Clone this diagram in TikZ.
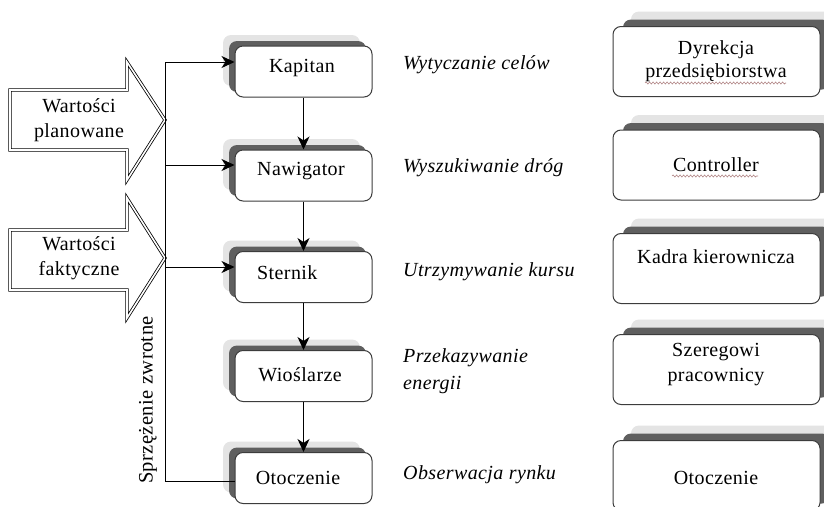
\documentclass[tikz,border=0pt]{standalone}
\usepackage{fontspec}
\setmainfont[LetterSpace=2]{Liberation Serif}
\usetikzlibrary{arrows.meta,shadows,decorations.pathmorphing}

\definecolor{boxline}{RGB}{60,60,60}
\definecolor{shadedark}{RGB}{95,95,95}
\definecolor{shadelight}{RGB}{228,228,228}
\definecolor{squig}{RGB}{175,130,130}

\begin{document}
\begin{tikzpicture}[x=1pt,y=-1pt,
  every node/.style={inner sep=0pt, font=\fontsize{20}{25}\selectfont},
  txt/.style={align=center},
  lab/.style={anchor=west, align=left, font=\fontsize{20}{27}\selectfont\itshape},
  rolebox/.style={draw=boxline, line width=1pt, fill=white, rounded corners=8pt,
    minimum width=137pt, minimum height=51pt,
    general shadow={fill=shadelight, shadow xshift=-12pt, shadow yshift=11pt},
    general shadow={fill=shadedark, shadow xshift=-6pt, shadow yshift=5pt}},
  orgbox/.style={draw=boxline, line width=1pt, fill=white, rounded corners=8pt,
    minimum width=207pt, minimum height=70pt,
    general shadow={fill=shadelight, shadow xshift=18pt, shadow yshift=15pt},
    general shadow={fill=shadedark, shadow xshift=10pt, shadow yshift=7pt}},
  link/.style={line width=1pt, -{Stealth[length=13pt,width=12pt,inset=4pt]}},
  fb/.style={line width=1pt},
  bigarrow/.style={draw=black, line width=0.8pt, double=white, double distance=1.6pt,
    line join=miter, fill=white},
  squiggle/.style={draw=squig, line width=0.6pt, decorate,
    decoration={snake, amplitude=1pt, segment length=3.5pt}}
]
\useasboundingbox (0,0) rectangle (824,506);
\clip (0,0) rectangle (824,506);

% input arrows on the left
\draw[bigarrow] (10,90) -- (127,90) -- (127,62) -- (165,120) -- (127,180)
  -- (127,150) -- (10,150) -- cycle;
\node[txt] (plan) at (79,120) {Wartości\\planowane};
\draw[bigarrow] (10,230) -- (127,230) -- (127,198) -- (165,258) -- (127,318)
  -- (127,290) -- (10,290) -- cycle;
\node[txt] (fakt) at (79,258) {Wartości\\faktyczne};

% crew boxes
\node[rolebox] (kap) at (303.5,71.5) {};
\node[rolebox] (naw) at (303.5,175.5) {};
\node[rolebox] (ste) at (303.5,277) {};
\node[rolebox] (wio) at (303.5,376) {};
\node[rolebox] (oto) at (303.5,478) {};
\node (tkap) at (302,68) {Kapitan};
\node (tnaw) at (301,171) {Nawigator};
\node[anchor=west] (tste) at (257,273) {Sternik};
\node (twio) at (300,375) {Wioślarze};
\node (toto) at (298,478) {Otoczenie};

% chain of command
\draw[link] (kap.south) -- (naw.north);
\draw[link] (naw.south) -- (ste.north);
\draw[link] (ste.south) -- (wio.north);
\draw[link] (wio.south) -- (oto.north);

% feedback loop
\coordinate (fbtop) at (165,62);
\coordinate (fbnaw) at (165,165);
\coordinate (fbste) at (165,267);
\coordinate (fbbot) at (165,481);
\draw[fb] (oto.west |- fbbot) -- (fbbot) -- (fbtop);
\draw[link] (fbtop) -- (fbtop -| kap.west);
\draw[link] (fbnaw) -- (fbnaw -| naw.west);
\draw[link] (fbste) -- (fbste -| ste.west);
\node[rotate=90, font=\fontsize{20.5}{25}\selectfont] (sprz) at (148,400) {Sprzężenie zwrotne};

% tasks
\node[lab] (l1) at (403,65) {Wytyczanie celów};
\node[lab] (l2) at (403,168) {Wyszukiwanie dróg};
\node[lab] (l3) at (403,272) {Utrzymywanie kursu};
\node[lab] (l4) at (403,371) {Przekazywanie\\energii};
\node[lab] (l5) at (403,475) {Obserwacja rynku};

% company counterparts
\node[orgbox] (dyr) at (716.5,61.5) {};
\node[orgbox] (con) at (716.5,165) {};
\node[orgbox] (kad) at (716.5,268.5) {};
\node[orgbox] (sze) at (716.5,369.5) {};
\node[orgbox] (otr) at (716.5,475.5) {};
\node[txt, font=\fontsize{20}{23}\selectfont] (tdyr) at (716,61.5) {Dyrekcja\\przedsiębiorstwa};
\node (tcon) at (716,165) {Controller};
\node (tkad) at (716,257) {Kadra kierownicza};
\node[txt] (tsze) at (716,365) {Szeregowi\\pracownicy};
\node (totr) at (716,478) {Otoczenie};

% spell-check underlines
\draw[squiggle] (645,83) -- (786,83);
\draw[squiggle] (672,176) -- (758,176);
\end{tikzpicture}
\end{document}
